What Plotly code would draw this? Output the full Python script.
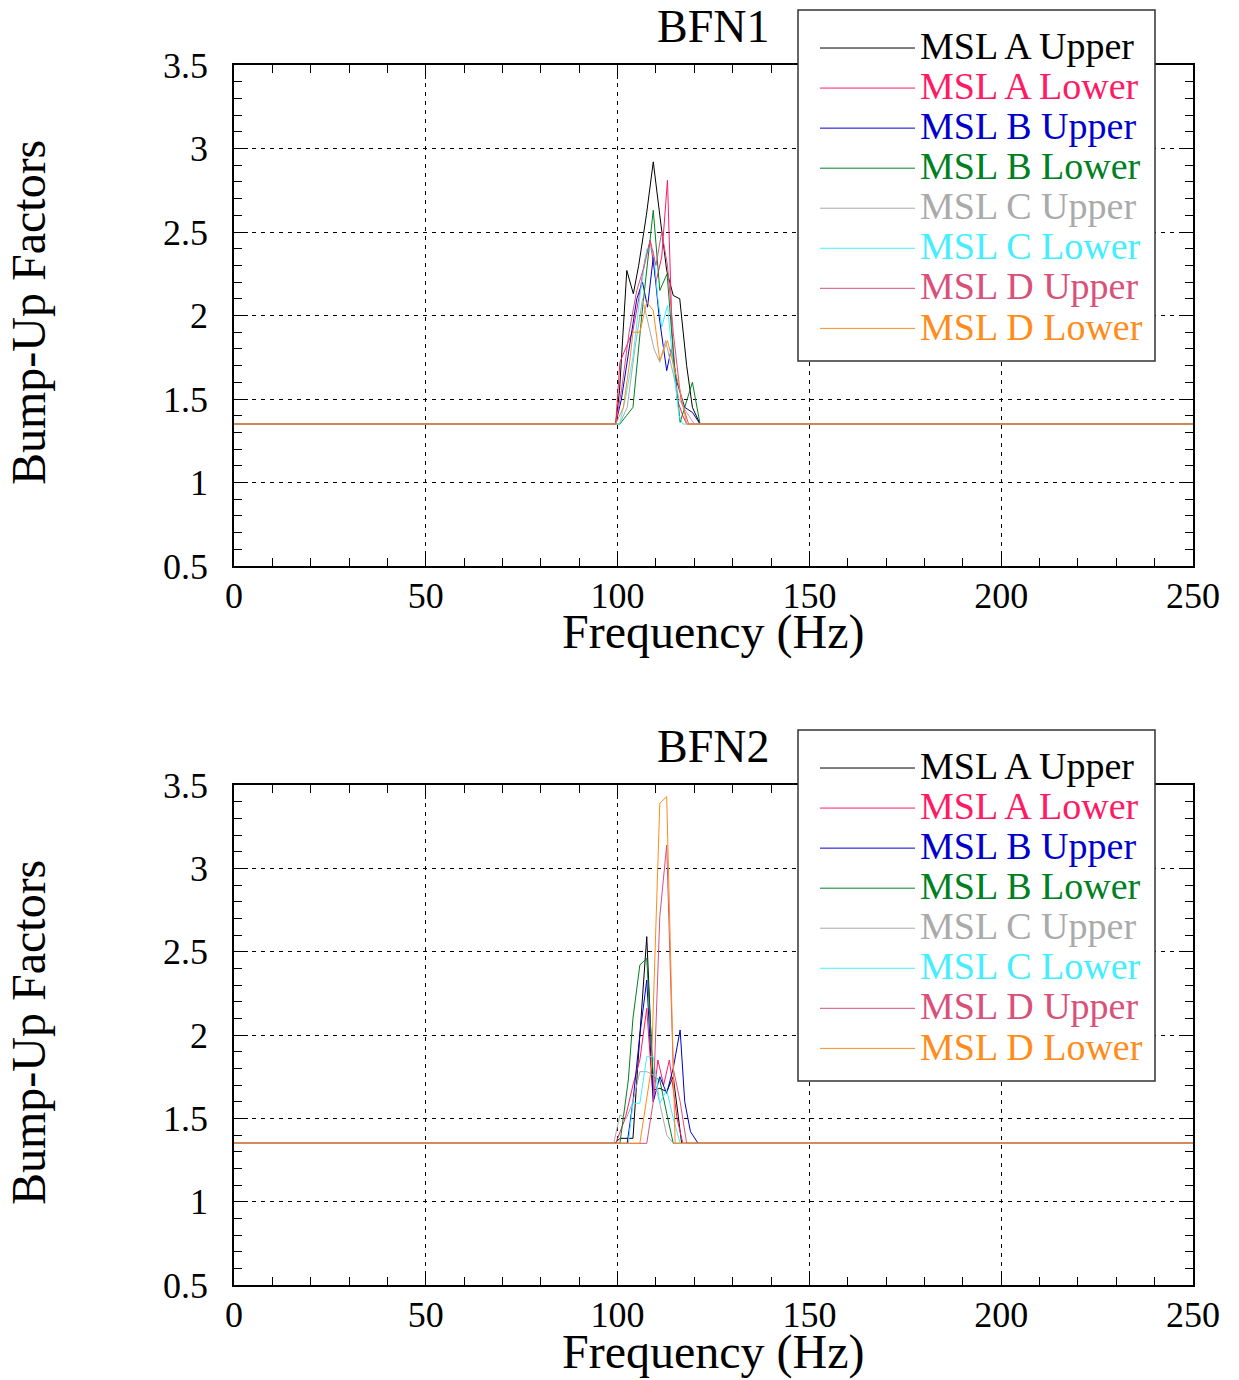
import plotly.graph_objects as go

# ---------------- DATA ----------------
series_names = ["MSL A Upper", "MSL A Lower", "MSL B Upper", "MSL B Lower",
                "MSL C Upper", "MSL C Lower", "MSL D Upper", "MSL D Lower"]
series_colors = ["#000000", "#ff1a66", "#0000cc", "#00801f",
                 "#aaaaaa", "#44eeff", "#d9507a", "#ff8c1a"]

# BFN1 (frequency in Hz, bump-up factor)
bfn1_a_upper_f = [0, 99.5, 100.5, 102.4, 104.1, 105.5, 107.5, 109.3, 111.0, 112.8, 114.5, 116.2, 118.0, 119.5, 121.5, 250]
bfn1_a_upper_v = [1.35, 1.35, 1.55, 2.27, 2.13, 2.30, 2.60, 2.92, 2.60, 2.27, 2.12, 2.10, 1.70, 1.45, 1.35, 1.35]
bfn1_a_lower_f = [0, 99.5, 100.6, 102.5, 104.0, 105.5, 107.1, 108.5, 110.0, 111.5, 113.0, 114.2, 115.5, 117.0, 118.0, 250]
bfn1_a_lower_v = [1.35, 1.35, 1.72, 1.82, 1.91, 2.10, 2.33, 2.45, 2.20, 2.35, 2.81, 1.90, 1.50, 1.40, 1.35, 1.35]
bfn1_b_upper_f = [0, 99.5, 101.0, 103.0, 105.0, 106.5, 107.8, 109.3, 110.8, 112.0, 112.8, 114.0, 115.5, 117.5, 119.5, 121.5, 250]
bfn1_b_upper_v = [1.35, 1.35, 1.50, 1.80, 2.10, 2.20, 2.05, 2.35, 2.00, 1.80, 1.67, 1.80, 1.60, 1.45, 1.42, 1.35, 1.35]
bfn1_b_lower_f = [0, 100.6, 102.3, 104.0, 106.3, 108.0, 109.3, 111.0, 112.9, 114.6, 116.3, 119.5, 121.5, 250]
bfn1_b_lower_v = [1.35, 1.35, 1.40, 1.45, 2.00, 2.35, 2.63, 2.15, 2.25, 1.75, 1.36, 1.60, 1.35, 1.35]
bfn1_c_upper_f = [0, 100.5, 102.5, 104.5, 106.5, 108.0, 109.5, 111.0, 112.5, 114.0, 116.0, 118.0, 120.0, 250]
bfn1_c_upper_v = [1.35, 1.35, 1.45, 1.80, 2.10, 1.95, 1.80, 1.72, 1.85, 1.70, 1.50, 1.42, 1.35, 1.35]
bfn1_c_lower_f = [0, 100.5, 102.0, 104.0, 106.0, 107.6, 109.3, 110.5, 111.5, 113.0, 114.5, 116.0, 117.0, 250]
bfn1_c_lower_v = [1.35, 1.35, 1.50, 1.75, 2.15, 2.40, 2.39, 2.10, 1.93, 2.06, 1.70, 1.40, 1.35, 1.35]
bfn1_d_upper_f = [0, 99.5, 101.0, 103.0, 105.0, 107.0, 108.5, 110.0, 111.5, 113.0, 114.5, 116.5, 118.5, 250]
bfn1_d_upper_v = [1.35, 1.35, 1.55, 1.90, 2.15, 2.30, 2.45, 2.30, 2.50, 2.30, 1.90, 1.50, 1.35, 1.35]
bfn1_d_lower_f = [0, 99.5, 101.5, 103.2, 104.0, 105.8, 107.6, 109.3, 111.0, 113.0, 114.6, 116.3, 118.0, 250]
bfn1_d_lower_v = [1.35, 1.35, 1.45, 1.73, 1.90, 1.90, 2.08, 2.03, 1.73, 1.85, 1.70, 1.55, 1.35, 1.35]

# BFN2
bfn2_a_upper_f = [0, 99.3, 100.6, 104.0, 105.8, 107.6, 109.3, 111.0, 112.8, 114.5, 116.7, 250]
bfn2_a_upper_v = [1.35, 1.35, 1.38, 1.38, 2.00, 2.59, 1.67, 1.68, 1.66, 1.75, 1.35, 1.35]
bfn2_a_lower_f = [0, 99.5, 102.0, 104.0, 105.8, 107.6, 109.3, 110.5, 112.0, 113.5, 115.5, 117.0, 250]
bfn2_a_lower_v = [1.35, 1.35, 1.50, 1.70, 1.85, 2.16, 1.60, 1.85, 1.70, 1.85, 1.50, 1.35, 1.35]
bfn2_b_upper_f = [0, 102.5, 104.0, 105.8, 107.6, 109.3, 111.0, 112.8, 114.5, 116.3, 117.5, 119.0, 121.0, 250]
bfn2_b_upper_v = [1.35, 1.35, 1.60, 2.00, 2.33, 1.60, 1.75, 1.65, 1.80, 2.03, 1.60, 1.42, 1.35, 1.35]
bfn2_b_lower_f = [0, 100.6, 102.8, 104.0, 105.8, 107.6, 109.3, 111.0, 112.8, 114.5, 250]
bfn2_b_lower_v = [1.35, 1.35, 1.73, 2.10, 2.42, 2.46, 1.75, 1.73, 1.53, 1.35, 1.35]
bfn2_c_upper_f = [0, 99.0, 100.6, 102.3, 104.0, 105.8, 107.6, 109.3, 111.0, 112.8, 114.5, 250]
bfn2_c_upper_v = [1.35, 1.35, 1.52, 1.50, 1.60, 1.78, 1.78, 1.76, 1.59, 1.40, 1.35, 1.35]
bfn2_c_lower_f = [0, 102.8, 104.0, 105.8, 107.6, 109.3, 111.0, 112.8, 114.5, 116.3, 250]
bfn2_c_lower_v = [1.35, 1.35, 1.59, 1.59, 1.87, 1.87, 1.59, 1.67, 1.50, 1.35, 1.35]
bfn2_d_upper_f = [0, 107.6, 109.3, 111.0, 112.8, 114.5, 116.3, 118.0, 250]
bfn2_d_upper_v = [1.35, 1.35, 1.60, 2.71, 3.14, 1.80, 1.60, 1.35, 1.35]
bfn2_d_lower_f = [0, 105.8, 108.8, 111.0, 112.8, 114.6, 115.0, 250]
bfn2_d_lower_v = [1.35, 1.35, 1.80, 3.39, 3.43, 1.70, 1.35, 1.35]

panel_titles = ["BFN1", "BFN2"]
x_title = "Frequency (Hz)"
y_title = "Bump-Up Factors"
x_ticks = [0, 50, 100, 150, 200, 250]
y_ticks = [0.5, 1, 1.5, 2, 2.5, 3, 3.5]
y_ticktext = ["0.5", "1", "1.5", "2", "2.5", "3", "3.5"]

bfn1 = [(bfn1_a_upper_f, bfn1_a_upper_v), (bfn1_a_lower_f, bfn1_a_lower_v),
        (bfn1_b_upper_f, bfn1_b_upper_v), (bfn1_b_lower_f, bfn1_b_lower_v),
        (bfn1_c_upper_f, bfn1_c_upper_v), (bfn1_c_lower_f, bfn1_c_lower_v),
        (bfn1_d_upper_f, bfn1_d_upper_v), (bfn1_d_lower_f, bfn1_d_lower_v)]
bfn2 = [(bfn2_a_upper_f, bfn2_a_upper_v), (bfn2_a_lower_f, bfn2_a_lower_v),
        (bfn2_b_upper_f, bfn2_b_upper_v), (bfn2_b_lower_f, bfn2_b_lower_v),
        (bfn2_c_upper_f, bfn2_c_upper_v), (bfn2_c_lower_f, bfn2_c_lower_v),
        (bfn2_d_upper_f, bfn2_d_upper_v), (bfn2_d_lower_f, bfn2_d_lower_v)]

# ---------------- FIGURE ----------------
W, H = 1239, 1380
OFF = 8  # page body margin
FONT = "Liberation Serif, Times New Roman, serif"


def px(x):
    return (x - OFF) / W


def py(y):
    return 1 - (y - OFF) / H


fig = go.Figure()

panels = [bfn1, bfn2]
axis_ids = [("x", "y"), ("x2", "y2")]
legend_ids = ["legend", "legend2"]
for p, data in enumerate(panels):
    xa, ya = axis_ids[p]
    for i, (f, v) in enumerate(data):
        c = series_colors[i]
        fig.add_trace(go.Scatter(
            x=f, y=v, mode="lines", xaxis=xa, yaxis=ya,
            line=dict(color=c, width=1),
            name=f'<span style="color:{c};font-size:38px">{series_names[i]}</span>',
            legend=legend_ids[p], showlegend=True))

x0, x1 = px(234), px(1193)
doms = [(py(566), py(65)), (py(1285), py(785))]


def xaxis_cfg(anchor):
    return dict(domain=[x0, x1], anchor=anchor, range=[0, 250],
                tickvals=x_ticks, ticks="inside", ticklen=14, tickwidth=1.2,
                tickcolor="black", showline=True, linecolor="black", linewidth=1.5,
                mirror="allticks", showgrid=True, gridcolor="black", gridwidth=1,
                griddash="4px,5px", zeroline=False,
                minor=dict(dtick=10, ticks="inside", ticklen=8, tickwidth=1,
                           tickcolor="black", showgrid=False),
                tickfont=dict(family=FONT, size=36, color="black"),
                ticklabelstandoff=-3, automargin=False)


def yaxis_cfg(anchor, dom):
    return dict(domain=list(dom), anchor=anchor, range=[0.5, 3.5],
                tickvals=y_ticks, ticktext=y_ticktext,
                ticks="inside", ticklen=14, tickwidth=1.2,
                tickcolor="black", showline=True, linecolor="black", linewidth=1.5,
                mirror="allticks", showgrid=True, gridcolor="black", gridwidth=1,
                griddash="4px,5px", zeroline=False,
                minor=dict(dtick=0.1, ticks="inside", ticklen=8, tickwidth=1,
                           tickcolor="black", showgrid=False),
                tickfont=dict(family=FONT, size=36, color="black"),
                ticklabelstandoff=17, automargin=False)


fig.update_layout(
    width=W, height=H,
    margin=dict(l=0, r=0, t=0, b=0),
    paper_bgcolor="white", plot_bgcolor="white",
    font=dict(family=FONT, color="black"),
    xaxis=xaxis_cfg("y"), yaxis=yaxis_cfg("x", doms[0]),
    xaxis2=xaxis_cfg("y2"), yaxis2=yaxis_cfg("x2", doms[1]),
)

# legend boxes (drawn as shapes) and legends
leg_common = dict(xanchor="left", yanchor="top", bgcolor="rgba(0,0,0,0)",
                  borderwidth=0, font=dict(family=FONT, size=28.5),
                  itemwidth=95, tracegroupgap=0, itemclick=False)
box_tops = [10, 730]
shapes = []
for p in range(2):
    t = box_tops[p]
    shapes.append(dict(type="rect", xref="paper", yref="paper",
                       x0=px(798), x1=px(1155), y0=py(t + 351), y1=py(t),
                       fillcolor="white", line=dict(color="#333333", width=1.5),
                       layer="above"))
fig.update_layout(shapes=shapes,
                  legend=dict(x=px(815), y=py(box_tops[0] + 13), **leg_common),
                  legend2=dict(x=px(815), y=py(box_tops[1] + 13), **leg_common))

annots = []
for p in range(2):
    top_px = [65, 785][p]
    annots.append(dict(text=panel_titles[p], x=(x0 + x1) / 2, y=py(top_px - 39),
                       xref="paper", yref="paper", showarrow=False,
                       font=dict(family=FONT, size=46), xanchor="center", yanchor="middle"))
    annots.append(dict(text=x_title, x=(x0 + x1) / 2, y=py(top_px + 567),
                       xref="paper", yref="paper", showarrow=False,
                       font=dict(family=FONT, size=48), xanchor="center", yanchor="middle"))
    annots.append(dict(text=y_title, x=px(28), y=py(top_px + 248),
                       xref="paper", yref="paper", showarrow=False, textangle=-90,
                       font=dict(family=FONT, size=48), xanchor="center", yanchor="middle"))
fig.update_layout(annotations=annots)

fig.write_html("out.html")
